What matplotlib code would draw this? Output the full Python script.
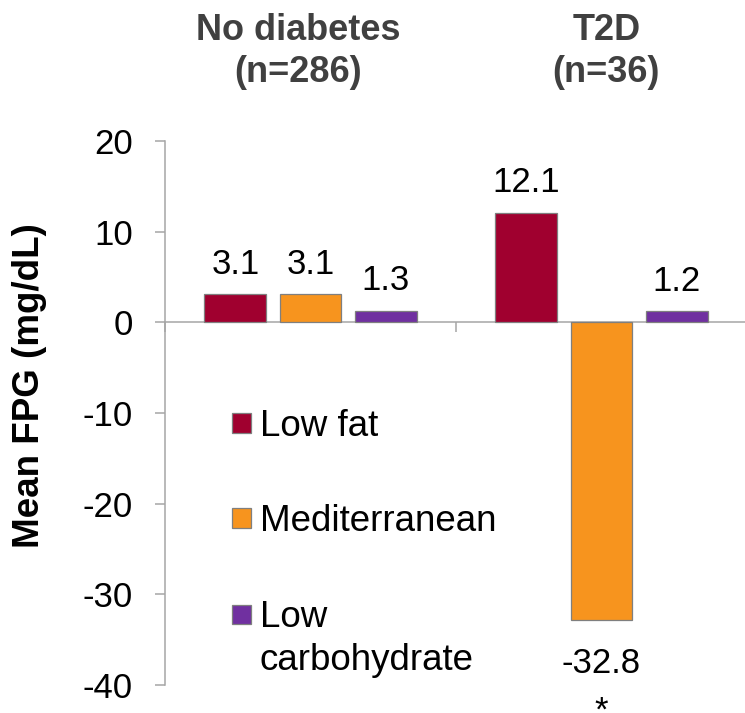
import matplotlib.pyplot as plt
import matplotlib.patches as mpatches
import matplotlib.transforms as mtransforms
from matplotlib.legend_handler import HandlerPatch
import numpy as np

plt.rcParams['font.family'] = ['Liberation Sans', 'DejaVu Sans']
plt.rcParams['axes.unicode_minus'] = False

# Data
groups = ["No diabetes\n(n=286)", "T2D\n(n=36)"]
diets = ["Low fat", "Mediterranean", "Low\ncarbohydrate"]
low_fat = [3.1, 12.1]
mediterranean = [3.1, -32.8]
low_carb = [1.3, 1.2]
sig_marks = [["", ""], ["", "*"], ["", ""]]

series = [low_fat, mediterranean, low_carb]
colors = ['#A0002F', '#F7941E', '#7030A0']


class SquareHandle(HandlerPatch):
    # square legend marker, optionally lifted to sit on the first line of a 2-line label
    def __init__(self, lift=0.0, **kw):
        super().__init__(**kw)
        self.lift = lift

    def create_artists(self, legend, orig_handle, xdescent, ydescent,
                       width, height, fontsize, trans):
        p = mpatches.Rectangle((-xdescent, -ydescent + self.lift * fontsize),
                               width, height)
        self.update_prop(p, orig_handle, legend)
        p.set_transform(trans)
        return [p]


fig = plt.figure(figsize=(7.45, 7.13), dpi=100)
ax = fig.add_axes([165 / 745, 28 / 713, 582 / 745, 544 / 713])

x = np.arange(len(groups))
step = 0.258
width = 0.213
bars = []
for i, (vals, col) in enumerate(zip(series, colors)):
    xs = x + (i - 1) * step
    b = ax.bar(xs, vals, width, color=col, edgecolor='#7F7F7F',
               linewidth=0.9, label=diets[i], zorder=3)
    bars.append(b)
    for xi, v, m in zip(xs, vals, sig_marks[i]):
        if v >= 0:
            ax.annotate(f"{v:.1f}", xy=(xi, v), xytext=(0, 9.5),
                        textcoords='offset points', ha='center', va='bottom',
                        fontsize=25)
        else:
            ax.annotate(f"{v:.1f}", xy=(xi, v), xytext=(0, -20),
                        textcoords='offset points', ha='center', va='top',
                        fontsize=25)
        if m:
            ax.annotate(m, xy=(xi, v), xytext=(0, -54),
                        textcoords='offset points', ha='center', va='top',
                        fontsize=25, annotation_clip=False)

ax.set_xlim(-0.5, 1.5)
ax.set_ylim(-40, 20)
ax.set_yticks([20, 10, 0, -10, -20, -30, -40])

# axes styling
for s in ['top', 'right']:
    ax.spines[s].set_visible(False)
ax.spines['bottom'].set_position(('data', 0))
for s in ['left', 'bottom']:
    ax.spines[s].set_color('#A6A6A6')
    ax.spines[s].set_linewidth(1.1)
ax.set_xticks([-0.5, 0.5, 1.5])
ax.set_xticklabels([])
ax.tick_params(axis='x', direction='out', length=7, color='#A6A6A6', width=1.1)
ax.tick_params(axis='y', direction='out', length=7, color='#A6A6A6', width=1.1,
               labelsize=25, pad=16)

ax.set_ylabel("Mean FPG (mg/dL)", fontsize=26.5, fontweight='bold', va='center')
ax.yaxis.set_label_coords((30 - 165) / 582, 0.551)

# group headers above the plot
trans = mtransforms.blended_transform_factory(ax.transData, fig.transFigure)
head_off = [-9, 3.5]
for i, g in enumerate(groups):
    ax.annotate(g, xy=(x[i], 1 - 13 / 713), xycoords=trans,
                xytext=(head_off[i], 0), textcoords='offset points',
                ha='center', va='top', fontsize=26, fontweight='bold',
                color='#404040', linespacing=1.27, annotation_clip=False)

handles = [b.patches[0] for b in bars]
handler = {handles[0]: SquareHandle(), handles[1]: SquareHandle(),
           handles[2]: SquareHandle(lift=0.67)}
leg = ax.legend(handles=handles, labels=diets, loc='upper left',
                bbox_to_anchor=(232 / 745, 1 - 409 / 713),
                bbox_transform=fig.transFigure, frameon=False, fontsize=26.5,
                handlelength=0.52, handleheight=0.45, handletextpad=0.24,
                labelspacing=1.64, borderpad=0, borderaxespad=0,
                handler_map=handler)
leg.get_texts()[2].set_linespacing(1.3)

fig.savefig('out.png', dpi=100)
